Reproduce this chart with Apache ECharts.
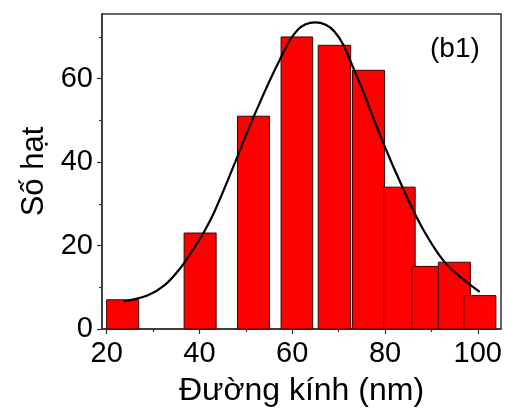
<!DOCTYPE html>
<html>
<head>
<meta charset="utf-8">
<script src="https://cdn.jsdelivr.net/npm/echarts@6/dist/echarts.min.js"></script>
<style>html,body{margin:0;padding:0;background:#fff;}#c{width:515px;height:417px;}</style>
</head>
<body>
<div id="c"></div>
<script>
// Histogram bins (nm) and counts
const binStart = [20.0, 36.7, 48.2, 57.6, 65.6, 73.0, 79.7, 85.8, 91.5, 97.0];
const binEnd   = [26.9, 43.6, 55.1, 64.4, 72.6, 79.9, 86.5, 92.7, 98.4, 103.9];
const counts   = [7, 23, 51, 70, 68, 62, 34, 15, 16, 8];
// Fitted curve points: [diameter, count]
const fitX = [23.6, 28.9, 32.5, 36.1, 39.0, 40.8, 43.3, 47.6, 51.7, 57.3, 61.2, 64.9, 69.1, 73.2, 79.8, 83.8, 88.1, 92.8, 97.1, 100.4];
const fitY = [6.6, 8.1, 10.5, 14.9, 19.7, 22.9, 28.3, 39.7, 50.9, 64.5, 71.7, 73.5, 71.3, 62.5, 44.1, 33.9, 24.1, 16.1, 11.7, 8.9];
const xMajor = [20, 40, 60, 80, 100];
const xMinor = [30, 50, 70, 90];
const yMajor = [0, 20, 40, 60];
const yMinor = [10, 30, 50, 70];

const FONT = '"Liberation Sans", Arial, sans-serif';
const chart = echarts.init(document.getElementById('c'), null, {renderer: 'canvas'});
const barData = counts.map((c, i) => [binStart[i], binEnd[i], c]);
const fitData = fitX.map((x, i) => [x, fitY[i]]);
const axisColor = '#333';

chart.setOption({
  animation: false,
  backgroundColor: '#fff',
  grid: {left: 102, right: 14, top: 14, bottom: 88, show: true, borderColor: axisColor, borderWidth: 1.5, backgroundColor: 'transparent'},
  xAxis: [{
    type: 'value', min: 19, max: 105,
    name: 'Đường kính (nm)', nameLocation: 'middle', nameGap: 46,
    nameTextStyle: {fontFamily: FONT, fontSize: 32, color: '#000'},
    axisLine: {show: true, lineStyle: {color: axisColor, width: 1.5}},
    axisTick: {show: true, customValues: xMajor, length: 5, lineStyle: {color: axisColor, width: 1.2}},
    axisLabel: {customValues: xMajor, fontFamily: FONT, fontSize: 29, color: '#000', margin: 10},
    splitLine: {show: false}
  }, {
    type: 'value', min: 19, max: 105, position: 'bottom',
    axisLine: {show: false},
    axisTick: {show: true, customValues: xMinor, length: 3, lineStyle: {color: axisColor, width: 1.2}},
    axisLabel: {show: false},
    splitLine: {show: false}
  }],
  yAxis: [{
    type: 'value', min: 0, max: 75.5,
    name: 'Số hạt', nameLocation: 'middle', nameGap: 51,
    nameTextStyle: {fontFamily: FONT, fontSize: 31, color: '#000'},
    axisLine: {show: true, lineStyle: {color: axisColor, width: 1.5}},
    axisTick: {show: true, customValues: yMajor, length: 5, lineStyle: {color: axisColor, width: 1.2}},
    axisLabel: {customValues: yMajor, fontFamily: FONT, fontSize: 29, color: '#000', margin: 9},
    splitLine: {show: false}
  }, {
    type: 'value', min: 0, max: 75.5, position: 'left',
    axisLine: {show: false},
    axisTick: {show: true, customValues: yMinor, length: 3, lineStyle: {color: axisColor, width: 1.2}},
    axisLabel: {show: false},
    splitLine: {show: false}
  }],
  graphic: [{
    type: 'text', left: 430, top: 35,
    style: {text: '(b1)', font: '28px "Liberation Sans", Arial, sans-serif', fill: '#000'}
  }],
  series: [{
    type: 'custom',
    xAxisIndex: 0, yAxisIndex: 0,
    data: barData,
    encode: {x: [0, 1], y: 2},
    renderItem: function (params, api) {
      const p0 = api.coord([api.value(0), 0]);
      const p1 = api.coord([api.value(1), api.value(2)]);
      return {
        type: 'rect',
        shape: {x: p0[0], y: p1[1], width: p1[0] - p0[0], height: p0[1] - p1[1]},
        style: {fill: '#ff0000', stroke: '#3a0000', lineWidth: 1}
      };
    }
  }, {
    type: 'line',
    xAxisIndex: 0, yAxisIndex: 0,
    data: fitData,
    smooth: 0.4,
    showSymbol: false,
    lineStyle: {color: '#000', width: 2.2}
  }]
});
</script>
</body>
</html>
